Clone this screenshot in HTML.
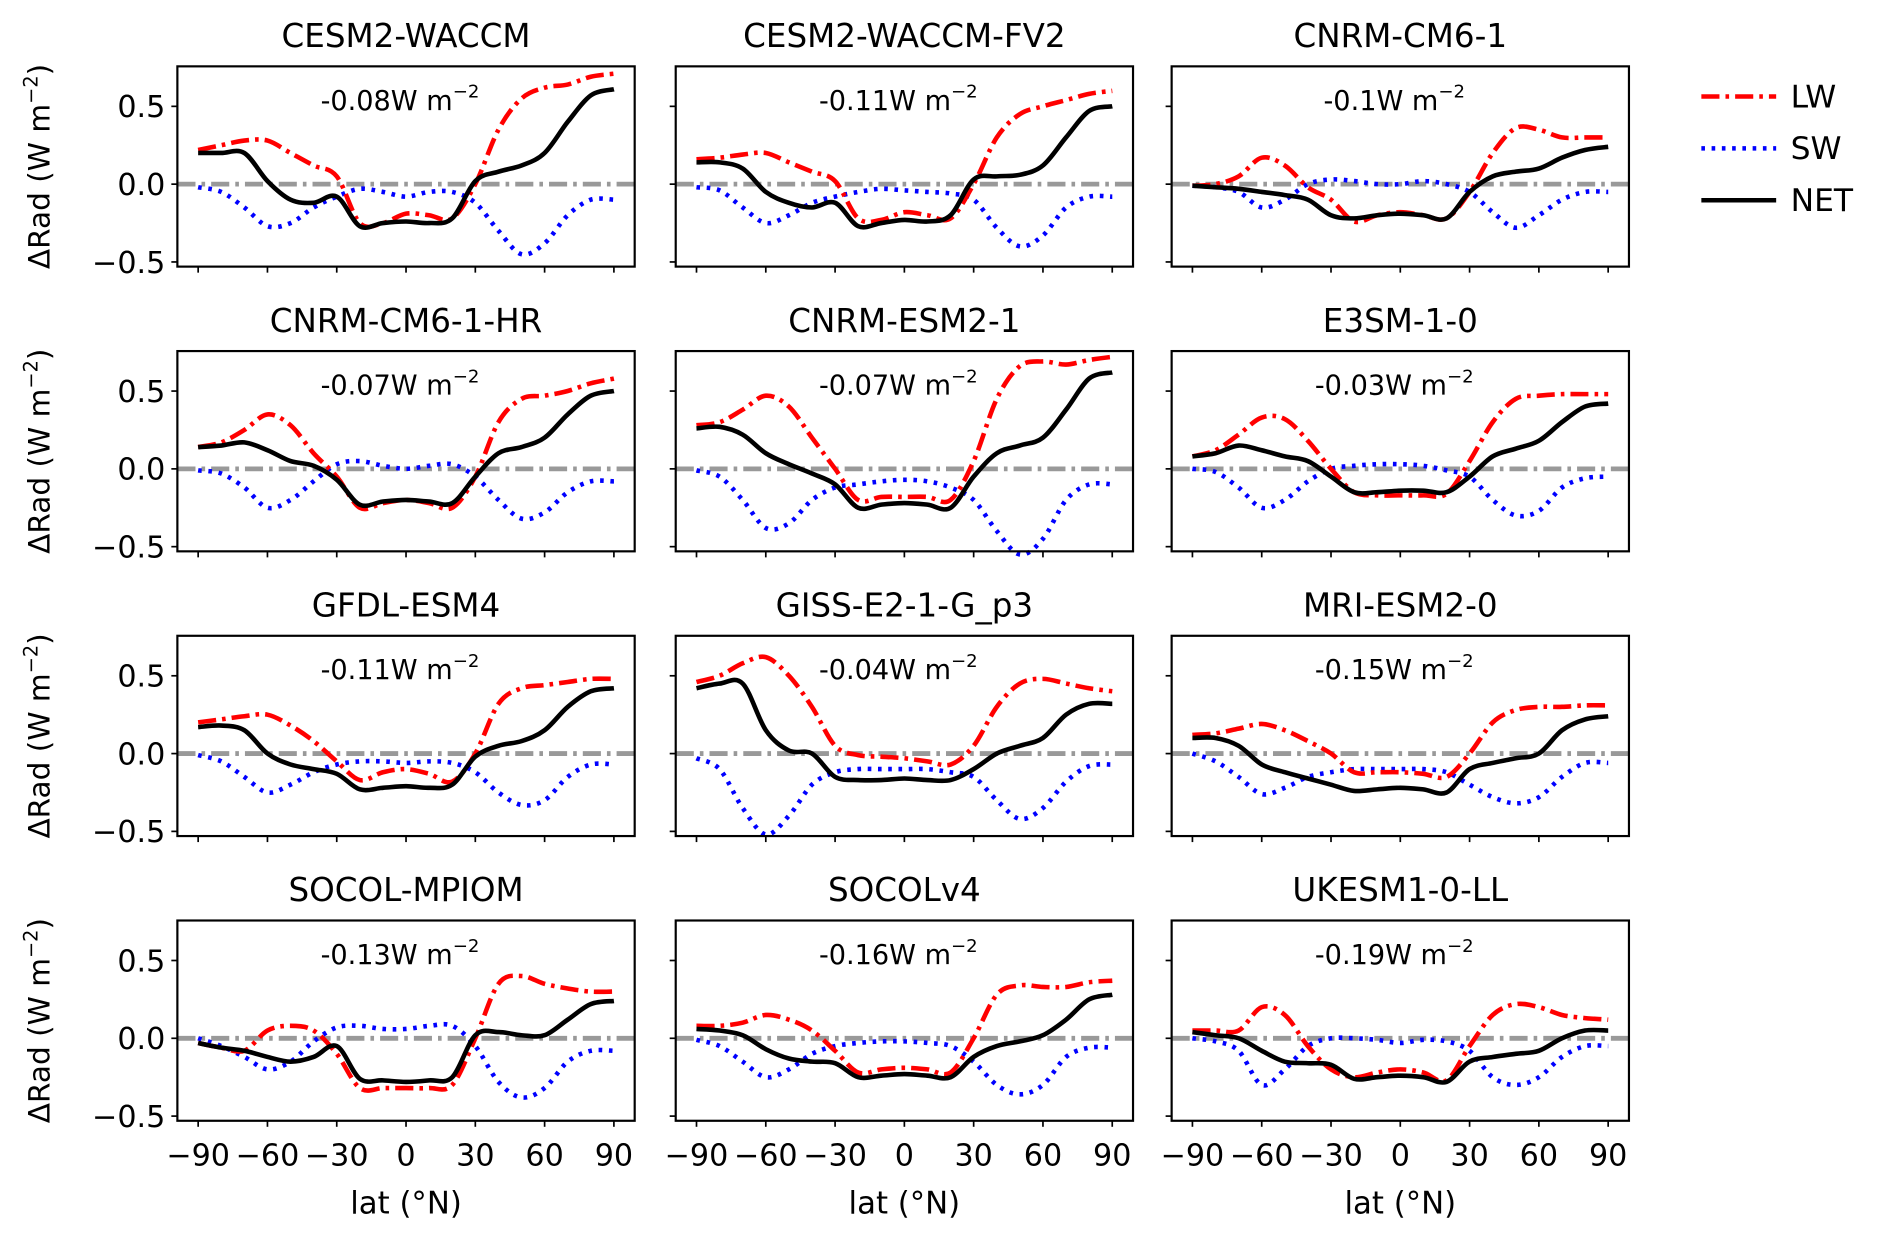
<!DOCTYPE html>
<html><head><meta charset="utf-8"><style>
html,body{margin:0;padding:0;background:#fff;}
svg{display:block;font-family:"DejaVu Sans","Liberation Sans",sans-serif;}
</style></head><body>
<svg id="fig" width="1892" height="1239" viewBox="0 0 1568 1027" preserveAspectRatio="none" xmlns="http://www.w3.org/2000/svg"></svg>
<script>
const lats=[-90,-80,-70,-60,-50,-40,-30,-20,-10,0,10,20,30,40,50,60,70,80,90];
const models=["CESM2-WACCM","CESM2-WACCM-FV2","CNRM-CM6-1","CNRM-CM6-1-HR","CNRM-ESM2-1","E3SM-1-0","GFDL-ESM4","GISS-E2-1-G_p3","MRI-ESM2-0","SOCOL-MPIOM","SOCOLv4","UKESM1-0-LL"];
const globalMeans=["-0.08","-0.11","-0.1","-0.07","-0.07","-0.03","-0.11","-0.04","-0.15","-0.13","-0.16","-0.19"];
const xTicks=[-90,-60,-30,0,30,60,90];
const xTickLabels=["\u221290","\u221260","\u221230","0","30","60","90"];
const yTicks=[-0.5,0,0.5];
const yTickLabels=["\u22120.5","0.0","0.5"];
const lwData=[
[0.22,0.25,0.28,0.28,0.2,0.12,0.05,-0.25,-0.25,-0.19,-0.2,-0.22,0.0,0.35,0.55,0.62,0.64,0.69,0.71],
[0.16,0.17,0.19,0.2,0.14,0.08,0.02,-0.22,-0.23,-0.18,-0.2,-0.22,0.0,0.3,0.45,0.5,0.54,0.58,0.6],
[-0.01,0.0,0.05,0.17,0.12,-0.02,-0.1,-0.24,-0.2,-0.18,-0.2,-0.22,-0.05,0.2,0.36,0.35,0.3,0.3,0.3],
[0.14,0.17,0.25,0.35,0.28,0.1,-0.05,-0.25,-0.22,-0.2,-0.22,-0.25,-0.05,0.3,0.45,0.47,0.5,0.55,0.58],
[0.28,0.3,0.38,0.47,0.4,0.2,0.0,-0.2,-0.18,-0.18,-0.18,-0.2,0.05,0.45,0.66,0.69,0.67,0.7,0.72],
[0.08,0.12,0.22,0.33,0.32,0.18,0.0,-0.15,-0.17,-0.17,-0.17,-0.16,0.05,0.3,0.45,0.47,0.48,0.48,0.48],
[0.2,0.22,0.24,0.25,0.18,0.08,-0.05,-0.17,-0.12,-0.1,-0.13,-0.18,0.0,0.32,0.42,0.44,0.46,0.48,0.48],
[0.46,0.5,0.58,0.62,0.5,0.3,0.05,-0.01,-0.02,-0.03,-0.05,-0.07,0.05,0.3,0.45,0.48,0.45,0.42,0.4],
[0.12,0.13,0.16,0.19,0.15,0.08,0.0,-0.12,-0.12,-0.12,-0.13,-0.15,0.0,0.2,0.28,0.3,0.3,0.31,0.31],
[-0.03,-0.06,-0.08,0.05,0.08,0.05,-0.1,-0.32,-0.32,-0.32,-0.32,-0.3,0.0,0.35,0.4,0.35,0.32,0.3,0.3],
[0.08,0.08,0.1,0.15,0.12,0.05,-0.08,-0.22,-0.2,-0.19,-0.2,-0.22,0.0,0.28,0.34,0.33,0.33,0.36,0.37],
[0.05,0.05,0.05,0.2,0.15,-0.05,-0.2,-0.25,-0.22,-0.2,-0.22,-0.27,-0.05,0.15,0.22,0.2,0.15,0.13,0.12]];
const swData=[
[-0.02,-0.05,-0.15,-0.27,-0.25,-0.15,-0.08,-0.03,-0.05,-0.08,-0.05,-0.05,-0.12,-0.3,-0.45,-0.38,-0.2,-0.1,-0.1],
[-0.02,-0.04,-0.15,-0.25,-0.2,-0.12,-0.08,-0.05,-0.03,-0.04,-0.05,-0.06,-0.1,-0.28,-0.4,-0.33,-0.15,-0.08,-0.08],
[-0.01,-0.02,-0.05,-0.15,-0.1,0.0,0.03,0.02,0.0,0.0,0.02,0.0,-0.05,-0.18,-0.28,-0.2,-0.1,-0.05,-0.05],
[-0.01,-0.03,-0.12,-0.25,-0.2,-0.08,0.03,0.05,0.02,0.0,0.02,0.03,-0.05,-0.2,-0.32,-0.28,-0.15,-0.08,-0.08],
[-0.01,-0.05,-0.2,-0.38,-0.35,-0.2,-0.12,-0.1,-0.08,-0.07,-0.08,-0.12,-0.2,-0.4,-0.55,-0.45,-0.2,-0.1,-0.1],
[0.0,-0.02,-0.12,-0.25,-0.2,-0.08,0.0,0.02,0.03,0.03,0.02,-0.01,-0.05,-0.2,-0.3,-0.27,-0.12,-0.06,-0.05],
[-0.01,-0.05,-0.15,-0.25,-0.2,-0.12,-0.07,-0.05,-0.05,-0.06,-0.05,-0.06,-0.12,-0.25,-0.33,-0.3,-0.15,-0.07,-0.07],
[-0.03,-0.1,-0.35,-0.52,-0.4,-0.2,-0.12,-0.1,-0.1,-0.1,-0.1,-0.12,-0.15,-0.3,-0.42,-0.35,-0.18,-0.08,-0.07],
[0.0,-0.05,-0.15,-0.26,-0.22,-0.15,-0.12,-0.1,-0.1,-0.1,-0.1,-0.12,-0.2,-0.28,-0.32,-0.28,-0.15,-0.06,-0.06],
[0.0,-0.05,-0.12,-0.2,-0.15,-0.02,0.07,0.08,0.06,0.06,0.08,0.08,-0.05,-0.28,-0.38,-0.32,-0.15,-0.08,-0.08],
[-0.01,-0.05,-0.15,-0.25,-0.2,-0.1,-0.05,-0.03,-0.02,-0.02,-0.03,-0.05,-0.15,-0.3,-0.36,-0.3,-0.12,-0.06,-0.06],
[0.0,-0.02,-0.08,-0.3,-0.2,-0.05,0.0,0.0,-0.01,-0.03,-0.01,-0.02,-0.08,-0.25,-0.3,-0.25,-0.12,-0.05,-0.05]];
const netData=[
[0.2,0.2,0.2,0.02,-0.1,-0.12,-0.08,-0.27,-0.25,-0.24,-0.25,-0.22,0.02,0.08,0.12,0.2,0.4,0.57,0.61],
[0.14,0.14,0.1,-0.05,-0.12,-0.15,-0.12,-0.27,-0.25,-0.23,-0.24,-0.2,0.03,0.05,0.06,0.12,0.3,0.47,0.5],
[-0.01,-0.02,-0.03,-0.05,-0.07,-0.1,-0.2,-0.22,-0.2,-0.19,-0.2,-0.22,-0.05,0.05,0.08,0.1,0.17,0.22,0.24],
[0.14,0.15,0.17,0.12,0.05,0.02,-0.07,-0.23,-0.21,-0.2,-0.21,-0.22,-0.05,0.1,0.14,0.2,0.35,0.47,0.5],
[0.26,0.27,0.22,0.1,0.03,-0.03,-0.1,-0.25,-0.23,-0.22,-0.23,-0.25,-0.05,0.1,0.15,0.2,0.38,0.58,0.62],
[0.08,0.1,0.15,0.12,0.08,0.05,-0.05,-0.15,-0.15,-0.14,-0.14,-0.15,-0.05,0.08,0.13,0.18,0.3,0.4,0.42],
[0.17,0.18,0.15,0.0,-0.07,-0.1,-0.13,-0.23,-0.22,-0.21,-0.22,-0.2,-0.02,0.05,0.08,0.15,0.3,0.4,0.42],
[0.42,0.45,0.45,0.15,0.02,0.0,-0.15,-0.17,-0.17,-0.16,-0.17,-0.17,-0.1,0.0,0.05,0.1,0.25,0.32,0.32],
[0.1,0.1,0.05,-0.07,-0.12,-0.16,-0.2,-0.24,-0.23,-0.22,-0.23,-0.25,-0.1,-0.06,-0.03,0.0,0.15,0.22,0.24],
[-0.03,-0.06,-0.08,-0.12,-0.15,-0.12,-0.05,-0.26,-0.27,-0.28,-0.27,-0.25,0.02,0.04,0.02,0.02,0.12,0.22,0.24],
[0.06,0.05,0.02,-0.07,-0.13,-0.15,-0.16,-0.25,-0.24,-0.23,-0.24,-0.25,-0.12,-0.05,-0.02,0.02,0.12,0.25,0.28],
[0.04,0.02,0.0,-0.08,-0.15,-0.16,-0.17,-0.26,-0.25,-0.24,-0.25,-0.28,-0.15,-0.12,-0.1,-0.08,0.0,0.05,0.05]];

const NS="http://www.w3.org/2000/svg";
const svg=document.getElementById('fig');
function mk(tag,attrs,parent){const e=document.createElementNS(NS,tag);for(const k in attrs)e.setAttribute(k,attrs[k]);(parent||svg).appendChild(e);return e;}
const colX=[147,560,971], colW=379, rowY=[55,291,527,763], rowH=166;
const XMIN=-99,XMAX=99,YMIN=-0.53,YMAX=0.757;
function sx(p,v){return p.x+(v-XMIN)/(XMAX-XMIN)*colW;}
function sy(p,v){return p.y+(YMAX-v)/(YMAX-YMIN)*rowH;}
function smooth(pts){let d=`M${pts[0][0].toFixed(1)},${pts[0][1].toFixed(1)}`;
 for(let i=0;i<pts.length-1;i++){const p0=pts[Math.max(0,i-1)],p1=pts[i],p2=pts[i+1],p3=pts[Math.min(pts.length-1,i+2)];
 const c1=[p1[0]+(p2[0]-p0[0])/6,p1[1]+(p2[1]-p0[1])/6],c2=[p2[0]-(p3[0]-p1[0])/6,p2[1]-(p3[1]-p1[1])/6];
 d+=` C${c1[0].toFixed(1)},${c1[1].toFixed(1)} ${c2[0].toFixed(1)},${c2[1].toFixed(1)} ${p2[0].toFixed(1)},${p2[1].toFixed(1)}`;}
 return d;}
models.forEach((m,i)=>{
 const r=Math.floor(i/3),c=i%3;const p={x:colX[c],y:rowY[r]};
 const g=mk('g',{});
 
 
 const t=mk('text',{x:p.x+colW/2,y:p.y-16,'text-anchor':'middle','font-size':27},g);t.textContent=m;
 
 const z=mk('line',{x1:p.x,x2:p.x+colW,y1:sy(p,0),y2:sy(p,0),stroke:'#999','stroke-width':4,'stroke-dasharray':'15,5,3,5'},g);
 
 const series=[[swData[i],'#0000ff','3,5.5','sw-line'],[lwData[i],'#ff0000','15,5,3,5','lw-line'],[netData[i],'#000','none','net-line']];
 series.forEach(([vals,col,dash,nm])=>{
  const pts=lats.map((la,k)=>[sx(p,la),sy(p,vals[k])]);
  const pa=mk('path',{d:smooth(pts),fill:'none',stroke:col,'stroke-width':3.8,'stroke-dasharray':dash},g);
  
 });
 const fr=mk('rect',{x:p.x,y:p.y,width:colW,height:rowH,fill:'none',stroke:'#000','stroke-width':1.8},g);
 
 const an=mk('text',{x:p.x+colW/2-5,y:p.y+36,'text-anchor':'middle','font-size':22.5},g);
 
 an.innerHTML=globalMeans[i]+'W m<tspan font-size="15" dy="-10">\u22122</tspan>';
 xTicks.forEach((v,k)=>{
  mk('line',{x1:sx(p,v),x2:sx(p,v),y1:p.y+rowH,y2:p.y+rowH+5,stroke:'#000','stroke-width':1.4},g);
  if(r===3){const tl=mk('text',{x:sx(p,v),y:p.y+rowH+37,'text-anchor':'middle','font-size':25},g);tl.textContent=xTickLabels[k];
   }
 });
 yTicks.forEach((v,k)=>{
  mk('line',{x1:p.x-5,x2:p.x,y1:sy(p,v),y2:sy(p,v),stroke:'#000','stroke-width':1.4},g);
  if(c===0){const tl=mk('text',{x:p.x-10,y:sy(p,v)+9,'text-anchor':'end','font-size':25},g);tl.textContent=yTickLabels[k];
   }
 });
 if(c===0){const yl=mk('text',{transform:`translate(41,${p.y+rowH/2}) rotate(-90)`,'text-anchor':'middle','font-size':24.5},g);
  yl.innerHTML='\u0394Rad (W m<tspan font-size="16" dy="-10">\u22122</tspan><tspan dy="10">)</tspan>';
  }
 if(r===3){const xl=mk('text',{x:p.x+colW/2,y:1006,'text-anchor':'middle','font-size':25.5},g);xl.textContent='lat (\u00b0N)';
  }
});
const legend=mk('g',{});

[['LW','#ff0000','15,5,3,5',80],['SW','#0000ff','3,5.5',123],['NET','#000','none',166]].forEach(([lab,col,dash,y])=>{
 const e=mk('g',{},legend);
 
 mk('line',{x1:1410,x2:1472,y1:y,y2:y,stroke:col,'stroke-width':3.8,'stroke-dasharray':dash},e);
 const t=mk('text',{x:1484,y:y+9,'font-size':26},e);t.textContent=lab;
});
</script>
</body></html>
